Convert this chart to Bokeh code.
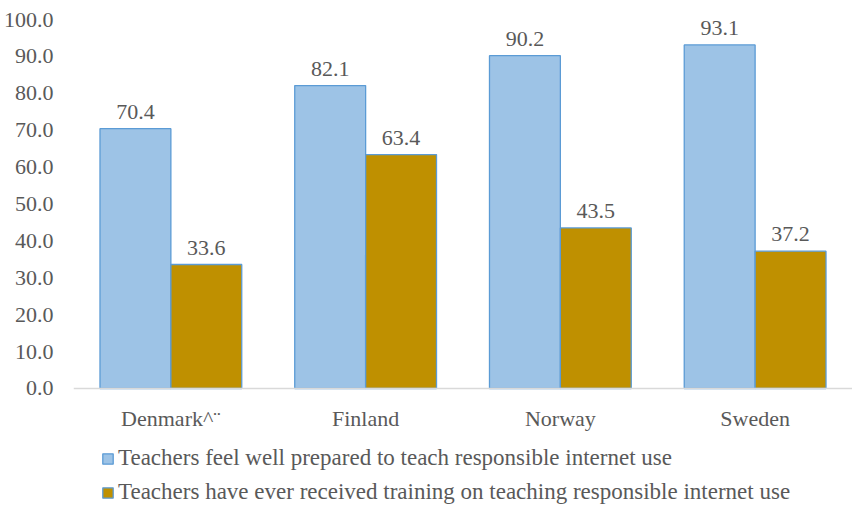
from bokeh.plotting import figure
from bokeh.models import (ColumnDataSource, FactorRange, Range1d, FixedTicker,
                          NumeralTickFormatter, Legend, LegendItem, LabelSet, Span)
from bokeh.transform import dodge
from bokeh.embed import file_html
from bokeh.resources import INLINE

countries = ["Denmark^¨", "Finland", "Norway", "Sweden"]
prepared = [70.4, 82.1, 90.2, 93.1]
training = [33.6, 63.4, 43.5, 37.2]
series_names = [
    "Teachers feel well prepared to teach responsible internet use",
    "Teachers have ever received training on teaching responsible internet use",
]
y_ticks = [0, 10, 20, 30, 40, 50, 60, 70, 80, 90, 100]

FONT = "Liberation Serif"
FS = "22px"
TXT = "#595959"
BLUE_FILL, BLUE_LINE, GOLD = "#9DC3E6", "#5B9BD5", "#BF9000"

src = ColumnDataSource(dict(
    country=countries,
    prepared=prepared,
    training=training,
    base=[0] * len(countries),
    prepared_lbl=[f"{v:.1f}" for v in prepared],
    training_lbl=[f"{v:.1f}" for v in training],
))

# frame spans from y=100 (top) down to the figure bottom; space below 0 holds
# the category labels and the legend
p = figure(width=852, height=509, output_backend="svg", toolbar_location=None,
           x_range=FactorRange(factors=countries, range_padding=0),
           y_range=Range1d(-32.8, 100),
           x_axis_location=None,
           min_border_left=67, min_border_right=0, min_border_top=19,
           min_border_bottom=0)
p.outline_line_color = None
p.grid.grid_line_color = None

bw = 0.364
off = 0.182
r1 = p.vbar(x=dodge("country", -off, range=p.x_range), top="prepared", width=bw,
            source=src, fill_color=BLUE_FILL, line_color=BLUE_LINE, line_width=1.3)
r2 = p.vbar(x=dodge("country", off, range=p.x_range), top="training", width=bw,
            source=src, fill_color=GOLD, line_color=BLUE_LINE, line_width=1.3)

for col, lbl, o in (("prepared", "prepared_lbl", -off), ("training", "training_lbl", off)):
    p.add_layout(LabelSet(x=dodge("country", o, range=p.x_range), y=col, text=lbl,
                          source=src, text_align="center", text_baseline="bottom",
                          y_offset=10, text_font=FONT, text_font_size=FS,
                          text_color=TXT))

# category axis: baseline + labels
p.add_layout(Span(location=0, dimension="width", line_color="#D9D9D9", line_width=1.3))
p.add_layout(LabelSet(x="country", y="base", text="country", source=src,
                      text_align="center", text_baseline="middle", y_offset=-30,
                      text_font=FONT, text_font_size=FS, text_color=TXT))

p.yaxis.ticker = FixedTicker(ticks=y_ticks)
p.yaxis.formatter = NumeralTickFormatter(format="0.0")
p.yaxis.axis_line_color = None
p.yaxis.major_tick_line_color = None
p.yaxis.minor_tick_line_color = None
p.yaxis.major_label_standoff = 14
p.yaxis.major_label_text_font = FONT
p.yaxis.major_label_text_font_size = FS
p.yaxis.major_label_text_color = TXT

legend = Legend(items=[LegendItem(label=series_names[0], renderers=[r1]),
                       LegendItem(label=series_names[1], renderers=[r2])],
                location=(28, 4), orientation="vertical",
                border_line_color=None, background_fill_alpha=0,
                padding=0, margin=0, spacing=8,
                glyph_width=13, glyph_height=13, label_standoff=4,
                label_height=20,
                label_text_font=FONT, label_text_font_size="23px",
                label_text_color=TXT)
p.add_layout(legend, "center")

open("out.html", "w").write(file_html(p, INLINE))
